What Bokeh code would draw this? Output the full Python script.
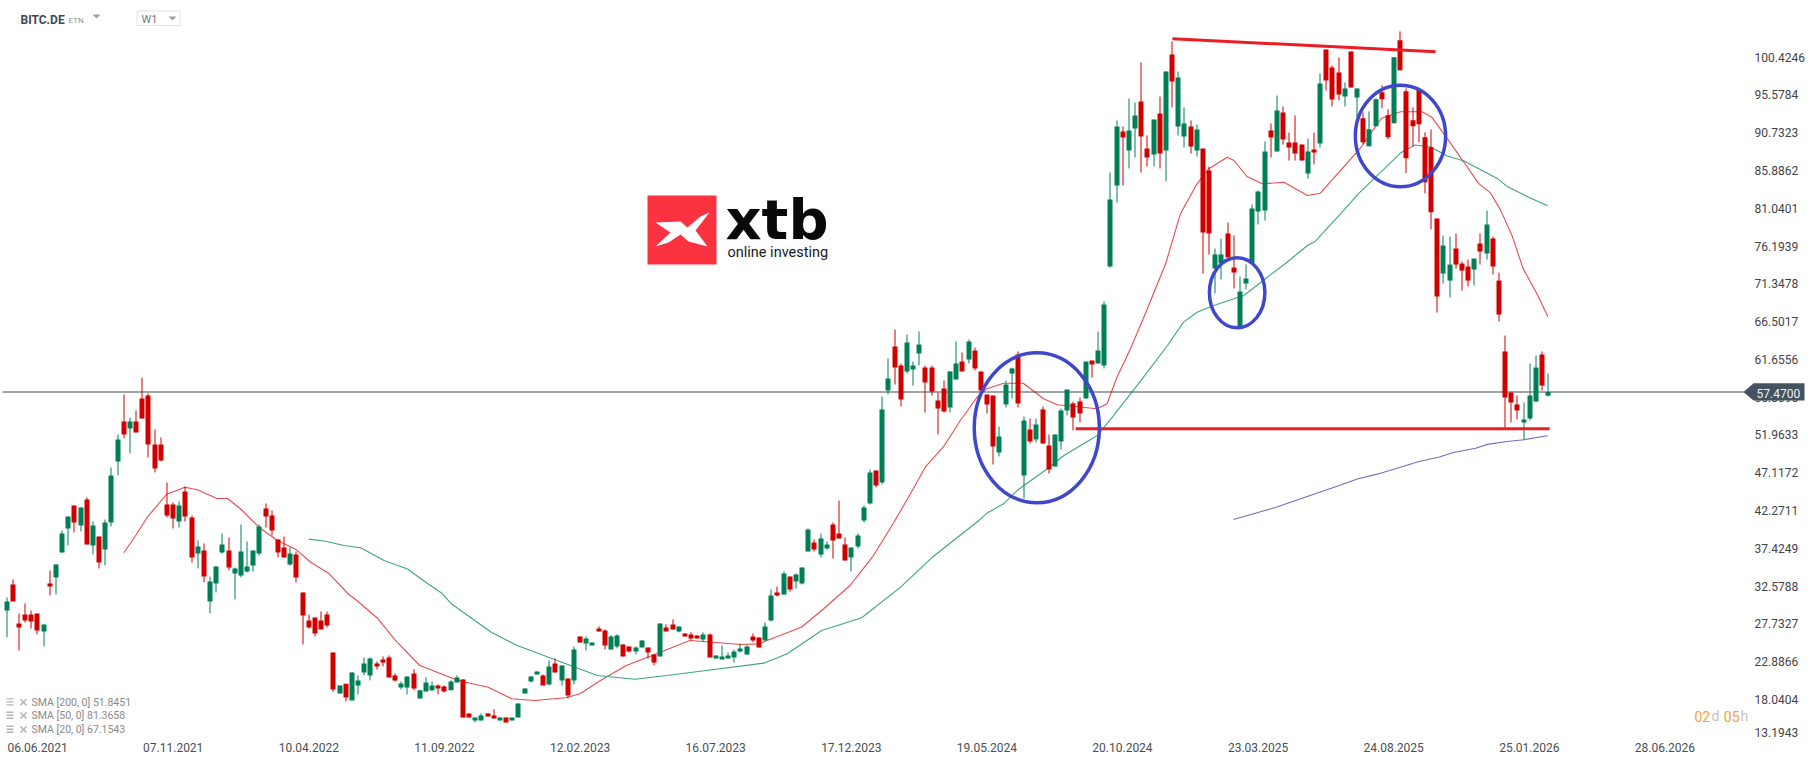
from bokeh.embed import file_html
from bokeh.resources import INLINE
from bokeh.plotting import figure
from bokeh.models import (Range1d, FixedTicker, Label, PolyAnnotation)

directions = ("GRRRRRGRGG" "GRGRGRGGGR" "GRRRRRRRGR" "RGRGGGRGGG" "GGRRRRGRRR"
              "RRRRGRGGGG" "RRRRGGRGGG" "RRGGRRGGRR" "GRGGGGGRGR" "GRGRGGRRGG"
              "RRGGRRGRRG" "RRRGRGGGGG" "GRRGGRGRGG" "GRGGRRRGGG" "GRGGRRGGGR"
              "RRRGGRGRRR" "RGGGRGRGRR" "GGGRRGRGGG" "GRGGRRGRGR" "GGRGRRGGRR"
              "GGGGGRGRRR" "RGRGRRRGRG" "RGGRRGRRRR" "RRRGGRRRGR" "GRRRRRGGGRG")

body_tops = [
    30.60,32.78,27.78,28.93,28.93,29.06,27.65,32.91,35.34,39.32,
    41.50,42.91,42.66,43.68,40.35,38.94,40.73,46.76,51.38,53.69,
    53.69,53.69,56.64,57.02,50.74,50.74,43.04,43.04,42.91,44.71,
    41.37,37.65,37.14,33.16,35.09,37.91,37.14,34.83,37.01,35.09,
    37.14,40.22,42.53,41.63,38.55,37.52,36.75,36.63,31.75,28.16,
    28.55,28.16,28.93,24.06,19.83,20.04,21.49,20.47,22.65,23.29,
    22.65,23.16,23.42,21.11,20.08,20.98,21.37,19.19,20.21,19.83,
    19.83,19.70,20.34,20.85,20.60,16.23,15.72,15.98,16.23,15.98,
    15.72,15.72,15.72,17.52,19.44,20.98,21.62,21.11,22.26,22.65,
    22.39,20.72,24.44,26.11,25.86,25.34,27.14,26.88,26.11,26.24,
    25.09,24.83,24.70,25.60,24.70,23.80,27.78,27.27,27.65,27.40,
    26.50,26.37,26.24,26.37,26.37,23.67,23.55,23.67,24.19,24.57,
    24.83,26.11,25.98,27.40,31.36,31.75,34.18,33.80,34.06,34.95,
    39.83,38.16,38.67,37.90,40.47,39.32,37.90,37.52,39.06,42.65,
    47.14,47.40,55.23,59.20,63.31,60.87,63.82,60.87,63.56,60.61,
    60.61,56.38,57.92,60.10,61.13,61.38,63.95,62.79,60.10,57.15,
    57.02,51.76,58.43,60.49,62.28,53.81,52.66,53.30,55.23,50.61,
    52.02,55.10,57.79,56.00,56.25,61.38,61.51,62.79,68.70,82.17,
    91.53,90.89,91.02,92.95,94.74,88.71,92.43,93.20,98.59,100.77,
    97.82,91.92,91.53,91.15,88.71,85.89,75.11,75.11,77.81,73.44,
    70.36,72.03,81.01,83.19,88.33,91.02,93.59,93.33,89.48,89.48,
    89.22,88.33,88.58,97.05,101.41,99.10,98.46,96.41,101.16,96.41,
    92.58,91.17,95.02,95.92,92.97,100.41,102.59,96.05,92.33,96.30,
    90.14,88.86,79.72,76.26,73.82,75.87,73.95,73.57,74.59,76.52,
    78.95,77.16,71.77,62.67,57.41,55.87,53.94,57.02,60.61,62.28,57.47,
]
body_bottoms = [
    29.44,30.60,27.26,28.16,28.03,26.88,26.75,32.52,33.68,36.88,
    39.96,40.73,40.35,37.91,37.78,35.60,37.27,40.73,48.56,52.02,
    52.79,52.28,54.07,50.74,47.66,48.69,41.63,41.24,40.86,41.50,
    36.24,36.75,33.80,30.60,32.91,36.88,34.96,34.19,33.93,34.45,
    35.22,36.75,41.50,39.71,36.88,36.24,35.34,33.68,28.80,27.26,
    26.49,27.01,27.52,19.31,18.80,18.29,17.90,19.83,21.49,21.11,
    22.26,22.78,20.85,20.47,19.57,19.57,19.44,18.16,19.06,19.19,
    19.44,19.06,19.19,20.21,15.72,15.72,15.34,15.34,15.85,15.59,
    15.34,15.08,15.34,15.72,18.80,20.34,21.24,19.83,19.95,21.49,
    20.47,18.54,20.47,25.34,25.21,24.96,26.75,24.96,24.44,24.83,
    23.55,24.19,24.19,24.70,24.06,22.78,23.55,26.75,27.01,26.75,
    26.11,25.86,25.86,25.73,23.42,23.29,23.16,23.29,23.42,24.19,
    23.80,25.60,24.70,25.60,28.15,31.36,31.49,32.13,33.16,32.90,
    37.01,37.26,36.62,37.39,38.42,38.67,35.85,36.24,37.65,40.98,
    43.17,45.47,45.86,57.66,60.61,56.51,60.10,60.36,62.41,58.69,
    57.53,55.35,54.97,55.48,59.07,60.10,61.64,60.49,57.66,55.87,
    50.48,49.71,55.87,59.84,56.00,46.76,51.12,51.38,50.86,47.53,
    47.91,51.12,55.10,54.20,54.71,56.64,61.00,61.13,60.87,73.57,
    83.96,90.12,88.45,91.28,90.25,87.56,87.94,88.07,88.45,97.31,
    91.53,90.25,88.97,88.45,77.93,77.81,73.32,73.96,74.73,72.80,
    65.87,71.39,74.09,80.63,80.76,90.12,88.33,89.87,88.84,88.07,
    87.17,85.50,88.20,89.35,97.44,95.00,95.64,95.38,96.54,95.25,
    89.50,88.99,91.56,95.02,90.14,91.94,98.74,87.45,91.56,91.81,
    84.37,80.52,69.72,72.67,71.77,73.82,73.05,71.77,73.18,75.49,
    75.23,73.57,67.41,56.76,56.12,55.10,53.56,54.07,56.25,58.30,57.00,
]
highs = [
    31.11,33.42,29.06,30.34,29.44,29.06,27.65,34.57,35.34,39.71,
    41.50,42.91,42.66,43.94,40.86,38.94,41.12,47.79,52.02,57.15,
    54.20,55.10,59.33,57.28,52.66,51.64,45.86,43.30,43.43,45.35,
    41.63,38.42,38.04,33.80,35.09,39.32,38.81,34.96,40.48,38.29,
    37.14,40.48,43.17,42.27,38.55,38.94,37.52,37.01,31.75,28.93,
    28.55,29.31,29.31,24.06,19.83,20.04,21.49,21.11,23.42,23.42,
    22.91,23.55,23.67,21.37,20.34,20.98,21.88,19.19,20.85,20.34,
    19.95,19.83,20.47,21.11,20.60,16.23,15.72,16.23,16.23,16.75,
    15.72,15.72,15.72,17.52,19.44,20.98,21.62,21.24,23.03,23.29,
    22.39,20.72,24.83,26.11,26.11,25.34,27.40,27.01,26.24,26.37,
    25.09,24.83,24.83,25.60,24.70,23.80,27.78,27.65,28.29,27.40,
    26.50,26.63,26.24,26.63,26.50,23.67,24.96,24.06,24.44,25.21,
    24.96,26.50,25.98,27.91,32.13,32.52,34.44,33.80,34.18,34.95,
    39.96,38.55,39.32,38.29,40.73,43.55,38.80,37.52,39.32,42.91,
    47.53,47.40,56.89,61.77,65.49,61.13,64.85,61.38,65.23,60.87,
    60.87,57.41,58.95,60.10,63.95,62.54,64.21,63.18,60.10,57.15,
    57.02,53.04,58.95,60.61,62.67,54.33,54.07,54.07,55.61,52.02,
    52.02,55.35,57.79,56.25,56.76,61.38,61.51,65.23,69.08,85.63,
    92.30,91.53,95.13,94.61,99.75,90.38,92.43,95.38,98.59,102.44,
    98.59,93.97,92.30,91.79,88.71,86.40,75.88,77.16,79.22,77.55,
    72.29,73.83,81.53,83.32,89.61,91.92,95.51,94.10,90.76,92.95,
    89.22,89.99,90.76,98.33,101.41,99.36,100.39,97.18,101.16,96.41,
    93.35,93.48,95.15,96.82,93.74,100.41,103.74,96.43,93.99,96.30,
    90.79,91.17,79.72,77.54,77.41,77.80,74.21,74.46,74.59,77.80,
    80.75,77.41,72.80,64.72,57.41,57.02,56.12,61.13,62.15,62.67,59.84,
]
lows = [
    26.02,30.60,24.31,27.90,27.13,26.36,24.82,31.37,31.50,36.88,
    37.78,39.45,39.58,37.91,36.63,34.83,35.22,40.22,46.76,51.51,
    49.58,52.28,54.07,49.07,47.15,48.56,41.37,39.96,40.09,40.86,
    35.60,34.83,33.04,29.06,31.75,36.75,34.57,30.85,33.68,34.32,
    34.45,36.50,40.09,39.06,36.24,36.24,35.22,33.04,25.08,27.13,
    26.11,27.01,27.26,18.97,18.80,17.77,17.90,18.67,21.11,20.47,
    21.88,22.26,20.85,20.34,19.31,18.67,19.19,18.16,19.06,19.06,
    18.67,18.93,19.19,20.21,15.72,15.72,15.08,15.34,15.85,15.59,
    15.34,15.08,15.34,15.72,18.80,20.21,21.24,19.83,19.83,21.49,
    19.83,18.16,19.95,25.34,24.32,24.96,26.75,24.44,24.44,24.57,
    23.55,24.06,23.80,24.70,23.25,22.39,23.55,26.75,27.01,26.63,
    26.11,25.60,25.86,25.47,23.42,23.29,23.16,23.29,22.78,24.06,
    23.80,25.34,24.70,25.60,28.03,31.23,31.49,31.87,32.26,32.77,
    37.01,37.01,36.24,37.26,36.11,38.67,35.85,34.44,37.39,40.73,
    43.04,45.22,45.60,57.15,58.43,55.61,59.84,58.30,60.87,54.84,
    57.02,52.02,54.84,54.84,59.07,60.10,61.13,60.23,57.66,54.71,
    48.17,49.20,55.48,56.64,55.48,43.81,50.86,50.99,50.86,47.01,
    47.91,50.09,54.46,52.53,53.56,56.64,59.33,61.13,60.49,73.44,
    81.78,83.96,86.15,87.56,85.63,86.40,86.40,86.15,84.48,93.97,
    90.38,88.84,88.07,87.69,72.67,75.11,70.11,71.90,74.73,70.75,
    65.75,70.62,74.09,78.96,79.47,87.56,88.33,89.22,87.17,87.17,
    87.17,84.86,86.66,88.84,96.15,94.10,94.87,94.10,96.54,92.69,
    89.25,88.99,91.56,93.87,89.89,91.94,98.74,85.53,88.99,89.50,
    82.96,78.34,67.66,71.38,69.59,73.31,70.49,71.00,71.13,73.82,
    74.46,72.54,66.51,52.92,53.56,53.94,51.38,53.81,56.25,57.66,56.89,
]

sma20_at = [19.0,20.9,22.8,25.9,28.9,30.9,34.1,35.8,37.9,40.9,43.9,47.0,49.3,52.2,55.5,56.8,60.1,62.9,67.0,
            72.5,74.4,78.1,81.9,85.6,90.7,93.0,96.3,100.5,104.7,110.8,114.5,119.1,121.9,124.7,128.9,132.2,
            136.8,140.5,143.9,146.6,149.0,152.0,154.7,157.4,159.0,161.7,164.9,168.2,170.4,176.9,178.5,180.1,
            182.3,184.7,188.0,190.4,193.1,195.0,198.0,199.1,201.2,203.7,207.2,211.0,213.1,219.6,223.0,226.1,
            229.6,231.2,233.7,236.4,238.8,240.7,242.3,244.2,246.0,248.3,250.0]
sma20 = [36.84,39.06,41.41,44.32,45.26,44.92,43.81,43.81,42.49,40.12,38.42,37.22,35.63,34.22,31.49,30.72,28.48,
         25.74,22.38,20.67,20.24,19.60,18.11,17.89,18.24,18.75,20.46,22.38,23.66,25.59,25.37,25.07,25.16,26.01,
         27.29,29.44,32.64,36.37,40.73,44.41,47.82,50.48,53.81,56.80,57.88,58.60,58.60,56.60,55.83,55.32,55.96,
         59.37,63.01,67.50,73.92,80.33,84.18,86.11,87.60,87.17,85.12,84.18,84.39,82.68,82.98,88.77,92.58,93.43,
         93.43,92.71,89.97,86.94,84.21,83.01,80.87,77.54,73.30,69.99,67.15]

sma50_at = [49.0,51.7,54.7,57.4,61.2,65.0,68.2,70.7,72.0,78.6,82.8,89.3,95.8,101.9,107.0,113.5,122.8,126.6,132.2,
            138.7,145.0,150.3,157.7,159.0,161.7,163.9,168.2,171.5,176.9,179.0,182.3,184.2,188.3,190.9,193.1,195.8,
            200.7,204.5,207.7,211.0,212.3,216.4,219.3,222.9,226.1,228.5,231.0,233.7,236.4,241.8,243.4,246.9,250.0]
sma50 = [38.59,38.33,37.78,37.48,35.85,34.76,32.94,31.58,30.37,26.65,24.95,23.02,21.10,20.62,21.10,21.74,22.68,
         23.88,26.87,28.50,32.43,36.37,40.98,41.92,43.13,44.83,47.27,49.32,51.89,53.90,57.24,59.16,63.44,66.43,
         67.71,68.57,69.85,72.20,74.12,76.27,76.82,80.37,82.91,85.68,88.13,89.17,88.90,87.75,87.10,84.87,83.85,
         82.47,81.37]

sma200_at = [199.0,205.8,211.2,216.4,219.1,222.3,226.1,229.1,232.3,234.7,238.3,240.2,243.4,246.1,250.0]
sma200 = [41.11,42.65,44.12,45.53,46.32,46.93,47.82,48.55,49.11,49.71,50.26,50.75,51.12,51.35,51.85]

date_labels = ["06.06.2021","07.11.2021","10.04.2022","11.09.2022","12.02.2023","16.07.2023","17.12.2023",
               "19.05.2024","20.10.2024","23.03.2025","24.08.2025","25.01.2026","28.06.2026"]
date_at = [5,27,49,71,93,115,137,159,181,203,225,247,269]

price_labels = ["100.4246","95.5784","90.7323","85.8862","81.0401","76.1939","71.3478","66.5017","61.6556",
                "56.8095","51.9633","47.1172","42.2711","37.4249","32.5788","27.7327","22.8866","18.0404","13.1943"]
price_at = [100.4246,95.5784,90.7323,85.8862,81.0401,76.1939,71.3478,66.5017,61.6556,
            56.8095,51.9633,47.1172,42.2711,37.4249,32.5788,27.7327,22.8866,18.0404,13.78]

last_price = 57.47
legend_rows = ["SMA [200,  0] 51.8451", "SMA [50,  0] 81.3658", "SMA [20,  0] 67.1543"]

# hand-drawn annotations, in chart units
resistance_at, resistance = [189.1, 231.8], [102.79, 101.13]
support_at, support = [173.4, 250.3], [52.75, 52.75]
ring_at, ring_price = [167.1, 199.6, 226.1], [52.88, 70.20, 90.32]
ring_w, ring_h = [20.3, 9.0, 14.65], [19.25, 8.98, 13.05]

C_UP, C_DN = "#007f56", "#d00000"


def X(px):  # page pixel -> chart x
    return (px - 6.3) / 6.164


def Y(py):  # page pixel -> chart y
    return 107.70 - 0.1283 * py


def slot(i):  # candle slot, snapped to the whole-pixel rhythm of the platform's renderer
    return X(6 + 6 * i + i // 6 + 0.5)


p = figure(frame_width=1806, frame_height=738, output_backend="svg", toolbar_location=None,
           x_range=Range1d(X(0), X(1806)), y_range=Range1d(Y(738), Y(0)),
           x_axis_location="below", y_axis_location="right",
           min_border=0, min_border_left=0, min_border_right=0, min_border_top=0, min_border_bottom=0,
           outline_line_color=None, background_fill_color="white", border_fill_color="white")
p.grid.visible = False

xa = p.xaxis[0]
xa.ticker = FixedTicker(ticks=date_at)
xa.major_label_overrides = dict(zip(date_at, date_labels))
xa.axis_line_color = None
xa.major_tick_line_color = None
xa.minor_tick_line_color = None
xa.major_label_text_font = "Roboto"
xa.major_label_text_font_size = "12px"
xa.major_label_text_color = "#4a4f54"
xa.major_label_standoff = -2

ya = p.yaxis[0]
ya.ticker = FixedTicker(ticks=price_at)
ya.major_label_overrides = dict(zip(price_at, price_labels))
ya.axis_line_color = None
ya.major_tick_line_color = None
ya.minor_tick_line_color = None
ya.major_label_text_font = "Roboto"
ya.major_label_text_font_size = "12px"
ya.major_label_text_color = "#3f4448"
ya.major_label_standoff = -58

# watermark logo
p.quad(left=[X(647)], right=[X(716)], top=[Y(195)], bottom=[Y(264)], fill_color="#fb3340", line_color=None)
logo_px = [(655, 222), (680, 221), (687, 227), (700, 216), (709, 212), (695, 230), (707, 246), (688, 241),
           (680, 234), (668, 242), (655, 246), (670, 232)]
p.patch([X(a) for a, _ in logo_px], [Y(b) for _, b in logo_px], fill_color="white", line_color=None)
p.add_layout(Label(x=X(725), y=Y(219), text="xtb", text_font="DejaVu Sans", text_font_style="bold",
                   text_font_size="56px", text_color="#0a0a0a", text_baseline="middle", text_align="left"))
p.add_layout(Label(x=X(727), y=Y(252), text="online investing", text_font="Roboto", text_font_size="14.5px",
                   text_color="#1a1a1a", text_baseline="middle", text_align="left"))

# moving averages
p.line(sma20_at, sma20, line_color="#e5383b", line_width=1.1, line_alpha=0.9)
p.line(sma50_at, sma50, line_color="#2a9a78", line_width=1.1, line_alpha=0.9)
p.line(sma200_at, sma200, line_color="#5a60b8", line_width=1.1, line_alpha=0.9)

# last price line
p.line([X(2), X(1745)], [last_price, last_price], line_color="#404a50", line_width=1)

# candles
for flag, color in (("G", C_UP), ("R", C_DN)):
    ids = [i for i, d in enumerate(directions) if d == flag]
    xs = [slot(i) for i in ids]
    p.segment(xs, [highs[i] for i in ids], xs, [lows[i] for i in ids], line_color=color, line_width=1)
    p.vbar(x=xs, width=5 / 6.164, top=[body_tops[i] for i in ids], bottom=[body_bottoms[i] for i in ids],
           fill_color=color, line_color=None)

# drawings
p.line(resistance_at, resistance, line_color="#ed1c24", line_width=3)
p.line(support_at, support, line_color="#ed1c24", line_width=3)
p.ellipse(x=ring_at, y=ring_price, width=ring_w, height=ring_h, fill_color=None,
          line_color="#3f48cc", line_width=3.5)

# last price badge
badge_px = [(1743, 391.5), (1753, 382.7), (1804, 382.7), (1804, 400), (1753, 400)]
p.add_layout(PolyAnnotation(xs=[X(a) for a, _ in badge_px], ys=[Y(b) for _, b in badge_px],
                            fill_color="#44535f", fill_alpha=1, line_color=None, editable=False))
p.add_layout(Label(x=X(1756), y=last_price - 0.15, text=f"{last_price:.4f}", text_font="Roboto",
                   text_font_size="12px", text_color="#eef2f4", text_baseline="middle", text_align="left"))

# header
p.add_layout(Label(x=X(20), y=Y(19), text="BITC.DE", text_font="Roboto", text_font_style="bold",
                   text_font_size="12px", text_color="#3c4a54", text_baseline="middle"))
p.add_layout(Label(x=X(68), y=Y(20), text="ETN", text_font="Roboto", text_font_size="8px",
                   text_color="#8c959b", text_baseline="middle"))
p.patch([X(92), X(100), X(96)], [Y(14), Y(14), Y(18)], fill_color="#9aa1a6", line_color=None)
p.quad(left=[X(136.5)], right=[X(179.5)], top=[Y(10.5)], bottom=[Y(25)], fill_color="white",
       line_color="#e0e2e4", line_width=1)
p.add_layout(Label(x=X(141), y=Y(19), text="W1", text_font="Roboto", text_font_size="11px",
                   text_color="#6f777c", text_baseline="middle"))
p.patch([X(168), X(176), X(172)], [Y(16), Y(16), Y(20)], fill_color="#9aa1a6", line_color=None)

# indicator legend
for row, (text, py) in enumerate(zip(legend_rows, [701.7, 715, 729])):
    p.quad(left=[X(6)] * 3, right=[X(13)] * 3,
           top=[Y(py - 4), Y(py - 1), Y(py + 2)], bottom=[Y(py - 2.6), Y(py + 0.4), Y(py + 3.4)],
           fill_color="#b4b4b4", line_color=None)
    p.segment([X(20), X(20)], [Y(py - 3), Y(py + 3)], [X(26), X(26)], [Y(py + 3), Y(py - 3)],
              line_color="#b4b4b4", line_width=1.6)
    p.add_layout(Label(x=X(31), y=Y(py), text=text, text_font="Roboto", text_font_size="10.5px",
                       text_color="#8a8a8a", text_baseline="middle"))

# countdown
for text, px, color in (("02", 1694, "#f9a132"), ("d", 1711, "#c4c4c4"), ("05", 1723.3, "#f9a132"), ("h", 1740, "#c4c4c4")):
    p.add_layout(Label(x=X(px), y=Y(715.6), text=text, text_font="Roboto", text_font_size="14px",
                       text_color=color, text_baseline="middle"))

open("out.html", "w").write(file_html(p, INLINE))
